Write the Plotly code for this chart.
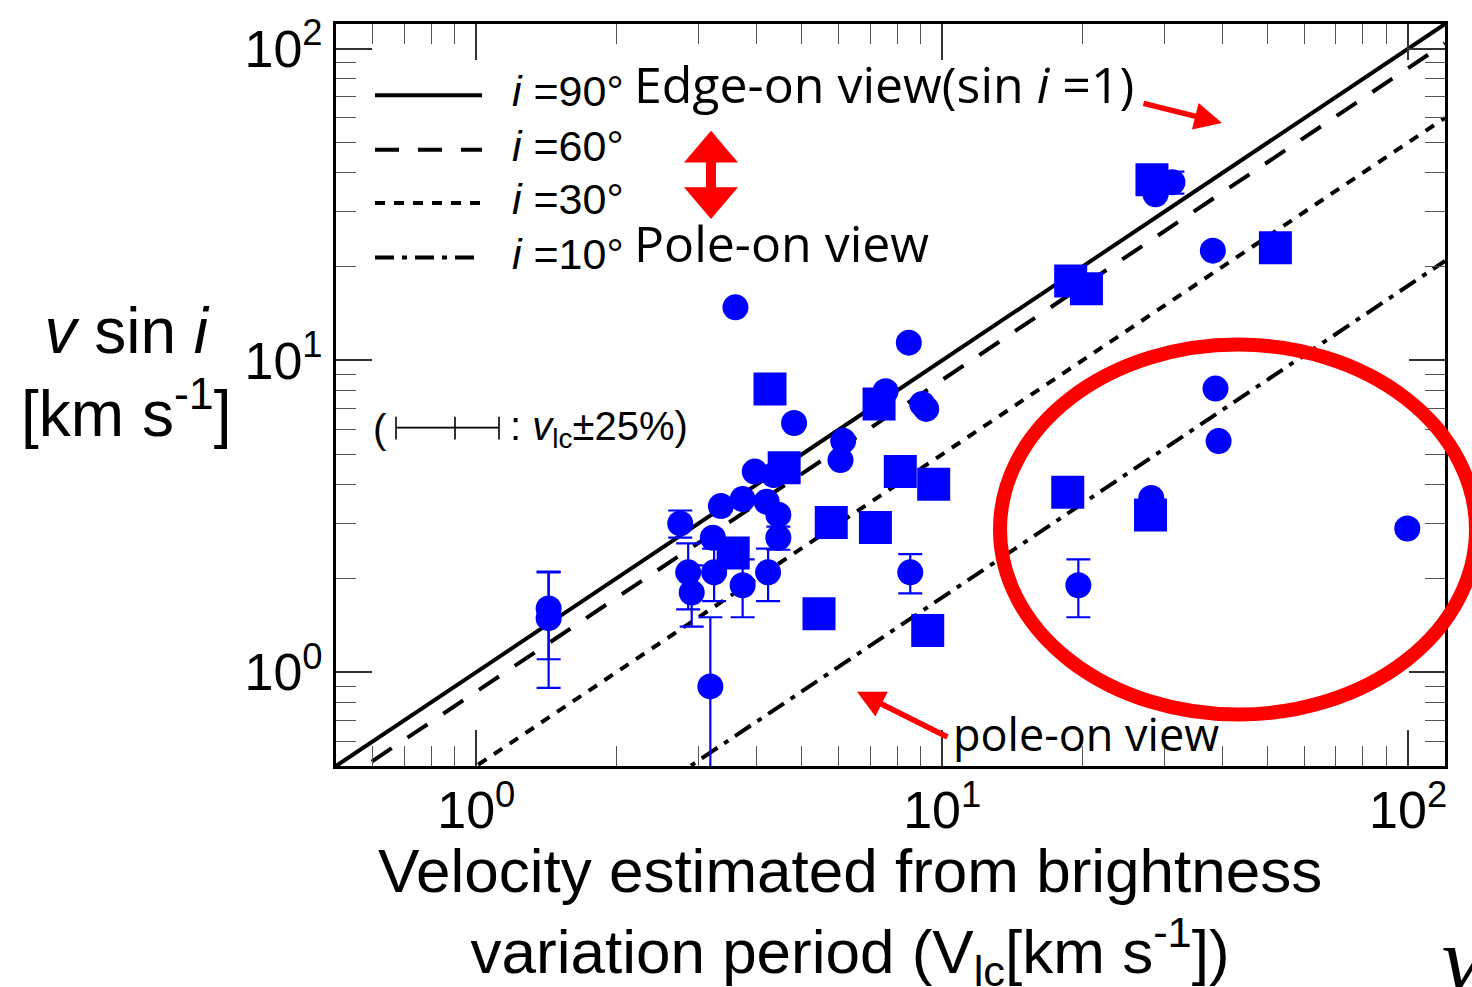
import numpy as np
import plotly.graph_objects as go

# ---- data -------------------------------------------------------------
# stars without a quoted v sin i uncertainty (circles)
circ_vlc = [3.60, 4.81, 3.96, 4.35, 3.35, 3.73, 4.20, 4.45, 3.22, 8.48,
            7.56, 9.06, 9.24, 6.13, 6.05, 28.7, 38.1, 38.6, 39.2, 28.1]
circ_vsini = [14.8, 6.30, 4.40, 4.29, 3.41, 3.59, 3.52, 3.20, 2.70, 11.4,
              7.96, 7.25, 6.99, 5.52, 4.79, 34.1, 22.5, 8.12, 5.51, 3.62]

# stars with a v sin i uncertainty (circles with error bars)
err_vlc = [1.43, 1.43, 2.74, 2.85, 2.90, 3.24, 3.73, 4.23, 4.45, 3.18,
           8.54, 19.6, 31.2, 99.6]
err_vsini = [1.60, 1.49, 3.00, 2.09, 1.80, 2.09, 1.90, 2.09, 2.70, 0.90,
             2.09, 1.90, 37.3, 2.89]
err_dv = [0.50, 0.60, 0.30, 0.50, 0.40, 0.40, 0.40, 0.40, 0.23, 0.60,
          0.30, 0.40, 3.0, 0.10]

# second sample (squares)
sq_vlc = [4.27, 4.58, 3.56, 7.32, 8.13, 9.59, 5.78, 7.19, 5.44, 9.31,
          28.2, 51.9, 18.87, 20.4, 18.6, 28.0]
sq_vsini = [8.09, 4.53, 2.41, 7.25, 4.40, 4.01, 3.02, 2.91, 1.54, 1.36,
            38.0, 23.0, 17.98, 16.97, 3.78, 3.19]

# inclination reference lines  v sin i = V_lc * sin(i)
incl_deg = [90, 60, 30, 10]
incl_dash = ["solid", "24px,19px", "10px,9px", "19px,8px,5px,8px"]
line_vlc = [0.5, 120.0]

x_range = [0.5, 120.0]
y_range = [0.5, 120.0]
tick_vals = [1, 10, 100]
tick_text = ["10<sup>0</sup>", "10<sup>1</sup>", "10<sup>2</sup>"]

BLUE = "#0000ff"
RED = "#ff0000"
SANS = "Liberation Sans, Arial, sans-serif"
CAL = "Open Sans, sans-serif"

# ---- frame geometry (px) ----------------------------------------------
W, H = 1472, 987
L, R, T, B = 336, 1445, 16, 766


def px(x):
    return (x - L) / (R - L)


def py(y):
    return (B - y) / (B - T)


fig = go.Figure()

for deg, dash in zip(incl_deg, incl_dash):
    s = np.sin(np.radians(deg))
    fig.add_trace(go.Scatter(
        x=line_vlc, y=[v * s for v in line_vlc], mode="lines",
        line=dict(color="black", width=4, dash=dash),
        hoverinfo="skip", showlegend=False))

fig.add_trace(go.Scatter(
    x=err_vlc, y=err_vsini, mode="markers",
    marker=dict(symbol="circle", size=26, color=BLUE, line=dict(width=0)),
    error_y=dict(type="data", array=err_dv, symmetric=True,
                 color=BLUE, thickness=2.2, width=12),
    showlegend=False))

fig.add_trace(go.Scatter(
    x=circ_vlc, y=circ_vsini, mode="markers",
    marker=dict(symbol="circle", size=26, color=BLUE, line=dict(width=0)),
    showlegend=False))

fig.add_trace(go.Scatter(
    x=sq_vlc, y=sq_vsini, mode="markers",
    marker=dict(symbol="square", size=33, color=BLUE, line=dict(width=0)),
    showlegend=False))

axis_common = dict(
    type="log",
    tickmode="array", tickvals=tick_vals, ticktext=tick_text,
    ticks="inside", ticklen=36, tickwidth=1.5, tickcolor="#333",
    minor=dict(ticks="inside", ticklen=20, tickwidth=1.2, tickcolor="#555",
               dtick="D1", showgrid=False),
    showline=True, linewidth=3, linecolor="black", mirror="ticks",
    showgrid=False, zeroline=False,
    tickfont=dict(family=SANS, size=52, color="black"),
)

fig.update_xaxes(range=[np.log10(x_range[0]), np.log10(x_range[1])],
                 ticklabelstandoff=-3, **axis_common)
fig.update_yaxes(range=[np.log10(y_range[0]), np.log10(y_range[1])],
                 ticklabelstandoff=0, **axis_common)

shapes = []
annotations = []

# hand-drawn style legend
legend_y = [88, 143, 197, 252]
legend_txt = ["<i>i</i> =90°", "<i>i</i> =60°", "<i>i</i> =30°", "<i>i</i> =10°"]
for yy, dash, txt in zip(legend_y, incl_dash, legend_txt):
    shapes.append(dict(type="line", xref="paper", yref="paper",
                       x0=px(375), x1=px(482), y0=py(yy), y1=py(yy),
                       line=dict(color="black", width=4, dash=dash)))
    annotations.append(dict(xref="paper", yref="paper", x=px(510), y=py(yy - 4),
                            xanchor="left", yanchor="middle", showarrow=False,
                            text=txt, font=dict(family=SANS, size=43, color="black")))

annotations.append(dict(xref="paper", yref="paper", x=px(632), y=py(77),
                        xanchor="left", yanchor="middle", showarrow=False,
                        text="Edge-on view(sin <i>i</i> =1)",
                        font=dict(family=CAL, size=50, color="black")))
annotations.append(dict(xref="paper", yref="paper", x=px(632), y=py(237),
                        xanchor="left", yanchor="middle", showarrow=False,
                        text="Pole-on view",
                        font=dict(family=CAL, size=50, color="black")))
annotations.append(dict(xref="paper", yref="paper", x=px(951), y=py(733),
                        xanchor="left", yanchor="middle", showarrow=False,
                        text="pole-on view",
                        font=dict(family=CAL, size=45, color="black")))

# error-bar key
annotations.append(dict(xref="paper", yref="paper", x=px(371), y=py(425),
                        xanchor="left", yanchor="middle", showarrow=False,
                        text="(", font=dict(family=SANS, size=40, color="black")))
annotations.append(dict(xref="paper", yref="paper", x=px(508), y=py(425),
                        xanchor="left", yanchor="middle", showarrow=False,
                        text=": <i>v</i><sub>lc</sub>±25%)",
                        font=dict(family=SANS, size=40, color="black")))
shapes.append(dict(type="line", xref="paper", yref="paper",
                   x0=px(396), x1=px(499), y0=py(424), y1=py(424),
                   line=dict(color="black", width=1.6)))
for cx in (396, 455, 499):
    shapes.append(dict(type="line", xref="paper", yref="paper",
                       x0=px(cx), x1=px(cx), y0=py(413), y1=py(436),
                       line=dict(color="black", width=1.6)))

# red highlight ellipse
shapes.append(dict(type="circle", xref="paper", yref="paper",
                   x0=px(1238 - 238), x1=px(1238 + 238),
                   y0=py(527 + 187), y1=py(527 - 187),
                   line=dict(color=RED, width=14)))

# red double-headed arrow
arrow_pts = [(711, 124), (738, 156), (716, 156), (716, 181), (738, 181),
             (711, 213), (684, 181), (706, 181), (706, 156), (684, 156)]
path = "M " + " L ".join(f"{px(a):.5f},{py(b):.5f}" for a, b in arrow_pts) + " Z"
shapes.append(dict(type="path", xref="paper", yref="paper", path=path,
                   fillcolor=RED, line=dict(color=RED, width=0)))

# red pointer arrows
annotations.append(dict(xref="paper", yref="paper", x=px(1222), y=py(116),
                        ax=-80, ay=-20, showarrow=True, text="",
                        arrowhead=2, arrowsize=1, arrowwidth=5.5, arrowcolor=RED))
annotations.append(dict(xref="paper", yref="paper", x=px(857), y=py(691),
                        ax=92, ay=46, showarrow=True, text="",
                        arrowhead=2, arrowsize=1, arrowwidth=5.5, arrowcolor=RED))

# axis titles
annotations.append(dict(xref="paper", yref="paper", x=px(850), y=py(917),
                        xanchor="center", yanchor="middle", showarrow=False,
                        align="center",
                        text="Velocity estimated from brightness<br>"
                             "variation period (V<sub>lc</sub>[km s<sup>-1</sup>])",
                        font=dict(family=SANS, size=62, color="black")))
annotations.append(dict(xref="paper", yref="paper", x=px(126), y=py(368),
                        xanchor="center", yanchor="middle", showarrow=False,
                        align="center",
                        text="<i>v</i> sin <i>i</i><br>[km s<sup>-1</sup>]",
                        font=dict(family=SANS, size=64, color="black")))
annotations.append(dict(xref="paper", yref="paper", x=px(1440), y=py(962),
                        xanchor="left", yanchor="middle", showarrow=False,
                        text="<i>v</i>",
                        font=dict(family="Liberation Serif, serif", size=90, color="black")))

fig.update_layout(
    width=W, height=H,
    margin=dict(l=L, r=W - R, t=T, b=H - B),
    paper_bgcolor="white", plot_bgcolor="white",
    shapes=shapes, annotations=annotations,
    showlegend=False,
)

fig.write_html("out.html")
